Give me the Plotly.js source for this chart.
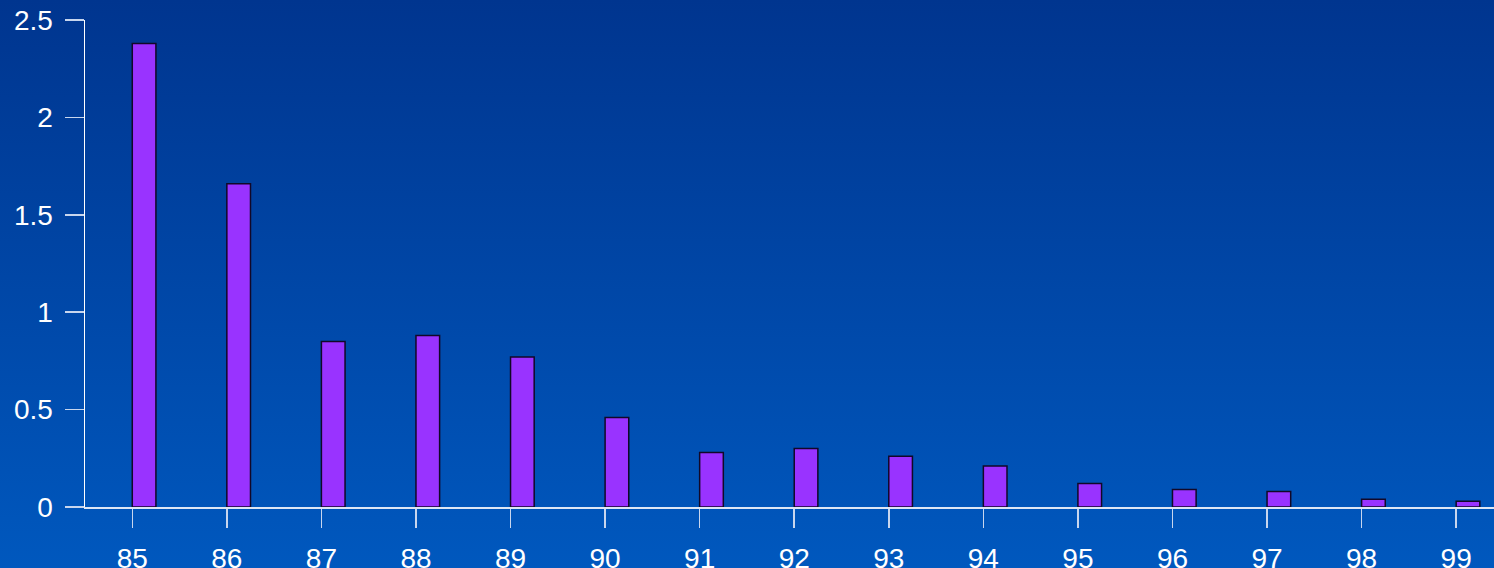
<!DOCTYPE html>
<html><head><meta charset="utf-8">
<script src="https://cdn.plot.ly/plotly-3.0.1.min.js"></script>
<style>
html,body{margin:0;padding:0;width:1494px;height:568px;overflow:hidden;}
#chart{width:1494px;height:568px;background:linear-gradient(to bottom,#00358F 0%,#0058BE 100%);}
</style></head>
<body><div id="chart"></div>
<script>
const categories = ["85","86","87","88","89","90","91","92","93","94","95","96","97","98","99"];
const values = [2.38,1.66,0.85,0.88,0.77,0.46,0.28,0.30,0.26,0.21,0.12,0.09,0.08,0.04,0.03];
const yTickVals = [0,0.5,1,1.5,2,2.5];
const yTickText = ["0","0.5","1","1.5","2","2.5"];

const font = {family:"Liberation Sans, Arial, sans-serif", size:28, color:"#FFFFFF"};
Plotly.newPlot("chart", [{
  type:"bar", x:categories, y:values,
  offset:0, width:0.25,
  marker:{color:"#9933FF", line:{color:"#120828", width:1.5}},
  hoverinfo:"skip"
}], {
  width:1494, height:568,
  margin:{l:85, r:0, t:20, b:61},
  paper_bgcolor:"rgba(0,0,0,0)", plot_bgcolor:"rgba(0,0,0,0)",
  showlegend:false,
  xaxis:{type:"category", range:[-0.5,14.4], showgrid:false, zeroline:false,
    showline:true, linecolor:"#DDE6F5", linewidth:1.5,
    ticks:"outside", ticklen:19, tickcolor:"#C8D6EE", tickwidth:1.5,
    tickfont:font, ticklabelstandoff:7},
  yaxis:{range:[0,2.5], tickvals:yTickVals, ticktext:yTickText, showgrid:false, zeroline:false,
    showline:true, linecolor:"#FFFFFF", linewidth:1.5,
    ticks:"outside", ticklen:19, tickcolor:"#C8D6EE", tickwidth:1.5,
    tickfont:font, ticklabelstandoff:6}
}, {staticPlot:true, displayModeBar:false});
</script></body></html>
